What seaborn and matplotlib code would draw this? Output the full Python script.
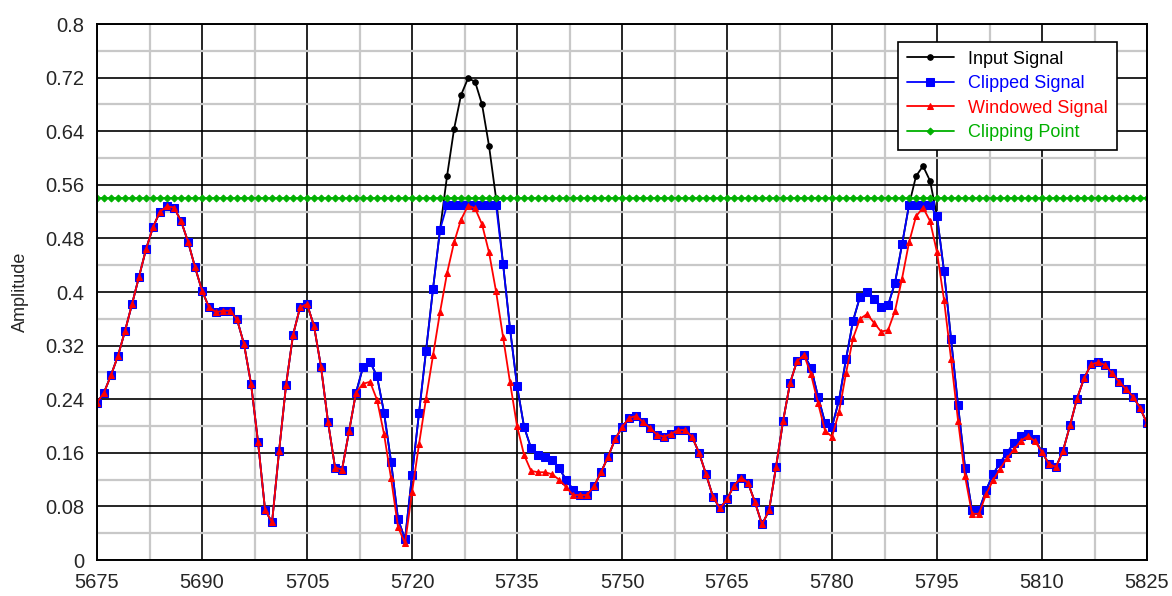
"""Clipping and windowing of a signal, reproduced with seaborn."""

import numpy as np
import pandas as pd
import seaborn as sns
import matplotlib.pyplot as plt
from matplotlib.ticker import FixedLocator

# sample positions
x_start, x_stop = 5675, 5825
samples = list(range(x_start, x_stop + 1))

clipped = [
    0.235, 0.250, 0.276, 0.305, 0.342, 0.382, 0.423, 0.464, 0.497, 0.520,
    0.528, 0.526, 0.506, 0.475, 0.437, 0.402, 0.377, 0.370, 0.372, 0.372,
    0.359, 0.322, 0.263, 0.176, 0.075, 0.056, 0.162, 0.261, 0.336, 0.377,
    0.382, 0.349, 0.288, 0.206, 0.138, 0.135, 0.192, 0.250, 0.288, 0.296,
    0.274, 0.220, 0.147, 0.061, 0.031, 0.127, 0.220, 0.312, 0.405, 0.493,
    0.530, 0.530, 0.530, 0.530, 0.530, 0.530, 0.530, 0.530, 0.442, 0.345,
    0.260, 0.199, 0.167, 0.157, 0.154, 0.149, 0.137, 0.120, 0.105, 0.097,
    0.097, 0.110, 0.131, 0.154, 0.180, 0.198, 0.212, 0.215, 0.206, 0.197,
    0.187, 0.184, 0.188, 0.194, 0.194, 0.184, 0.160, 0.128, 0.094, 0.077,
    0.091, 0.111, 0.123, 0.115, 0.086, 0.053, 0.074, 0.139, 0.207, 0.264,
    0.297, 0.306, 0.287, 0.244, 0.205, 0.199, 0.239, 0.300, 0.357, 0.393,
    0.400, 0.390, 0.377, 0.380, 0.414, 0.471, 0.530, 0.530, 0.530, 0.530,
    0.513, 0.431, 0.330, 0.231, 0.138, 0.074, 0.074, 0.104, 0.128, 0.145,
    0.160, 0.175, 0.185, 0.188, 0.180, 0.161, 0.143, 0.139, 0.163, 0.201,
    0.241, 0.271, 0.292, 0.295, 0.291, 0.279, 0.266, 0.255, 0.244, 0.227,
    0.204,
]

input_signal = [
    0.235, 0.250, 0.276, 0.305, 0.342, 0.382, 0.423, 0.464, 0.497, 0.520,
    0.528, 0.526, 0.506, 0.475, 0.437, 0.402, 0.377, 0.370, 0.372, 0.372,
    0.359, 0.322, 0.263, 0.176, 0.075, 0.056, 0.162, 0.261, 0.336, 0.377,
    0.382, 0.349, 0.288, 0.206, 0.138, 0.135, 0.192, 0.250, 0.288, 0.296,
    0.274, 0.220, 0.147, 0.061, 0.031, 0.127, 0.220, 0.312, 0.405, 0.493,
    0.573, 0.643, 0.694, 0.719, 0.714, 0.680, 0.618, 0.540, 0.442, 0.345,
    0.260, 0.199, 0.167, 0.157, 0.154, 0.149, 0.137, 0.120, 0.105, 0.097,
    0.097, 0.110, 0.131, 0.154, 0.180, 0.198, 0.212, 0.215, 0.206, 0.197,
    0.187, 0.184, 0.188, 0.194, 0.194, 0.184, 0.160, 0.128, 0.094, 0.077,
    0.091, 0.111, 0.123, 0.115, 0.086, 0.053, 0.074, 0.139, 0.207, 0.264,
    0.297, 0.306, 0.287, 0.244, 0.205, 0.199, 0.239, 0.300, 0.357, 0.393,
    0.400, 0.390, 0.377, 0.380, 0.414, 0.471, 0.530, 0.573, 0.588, 0.566,
    0.513, 0.431, 0.330, 0.231, 0.138, 0.074, 0.074, 0.104, 0.128, 0.145,
    0.160, 0.175, 0.185, 0.188, 0.180, 0.161, 0.143, 0.139, 0.163, 0.201,
    0.241, 0.271, 0.292, 0.295, 0.291, 0.279, 0.266, 0.255, 0.244, 0.227,
    0.204,
]

windowed = [
    0.235, 0.250, 0.276, 0.305, 0.342, 0.382, 0.423, 0.464, 0.497, 0.520,
    0.528, 0.526, 0.506, 0.475, 0.437, 0.402, 0.377, 0.370, 0.372, 0.372,
    0.359, 0.322, 0.263, 0.176, 0.075, 0.056, 0.162, 0.261, 0.336, 0.377,
    0.382, 0.349, 0.288, 0.206, 0.138, 0.135, 0.192, 0.250, 0.263, 0.266,
    0.239, 0.188, 0.122, 0.049, 0.025, 0.101, 0.173, 0.241, 0.306, 0.370,
    0.428, 0.474, 0.508, 0.529, 0.525, 0.501, 0.459, 0.401, 0.333, 0.265,
    0.200, 0.157, 0.133, 0.131, 0.131, 0.128, 0.120, 0.109, 0.097, 0.097,
    0.097, 0.110, 0.131, 0.154, 0.180, 0.198, 0.212, 0.215, 0.206, 0.197,
    0.187, 0.184, 0.188, 0.194, 0.194, 0.184, 0.160, 0.128, 0.094, 0.077,
    0.091, 0.111, 0.123, 0.115, 0.086, 0.053, 0.074, 0.139, 0.207, 0.264,
    0.297, 0.306, 0.277, 0.234, 0.193, 0.184, 0.221, 0.279, 0.331, 0.360,
    0.367, 0.354, 0.341, 0.343, 0.372, 0.420, 0.474, 0.513, 0.526, 0.506,
    0.459, 0.388, 0.300, 0.208, 0.125, 0.069, 0.069, 0.098, 0.119, 0.136,
    0.152, 0.165, 0.178, 0.185, 0.177, 0.161, 0.143, 0.139, 0.163, 0.201,
    0.241, 0.271, 0.292, 0.295, 0.291, 0.279, 0.266, 0.255, 0.244, 0.227,
    0.204,
]

clip_level = 0.54
clip_line = [clip_level] * len(samples)

x_ticks = list(range(5675, 5826, 15))
y_ticks = [0, 0.08, 0.16, 0.24, 0.32, 0.4, 0.48, 0.56, 0.64, 0.72, 0.8]
y_tick_labels = ["0", "0.08", "0.16", "0.24", "0.32", "0.4", "0.48",
                 "0.56", "0.64", "0.72", "0.8"]

df = pd.DataFrame({
    "x": samples,
    "Input Signal": input_signal,
    "Clipped Signal": clipped,
    "Windowed Signal": windowed,
    "Clipping Point": clip_line,
})

sns.set_style("white")
plt.rcParams["font.family"] = ["Liberation Sans Narrow", "Liberation Sans", "DejaVu Sans"]

fig = plt.figure(figsize=(11.72, 5.96), dpi=100)
ax = fig.add_axes([0.0828, 0.0604, 0.8959, 0.8993])

series = [
    ("Input Signal", "black", "o", 4.0),
    ("Clipped Signal", "#0000ff", "s", 5.5),
    ("Windowed Signal", "#ff0000", "^", 5.0),
    ("Clipping Point", "#00b000", "D", 3.5),
]
for name, color, marker, ms in series:
    sns.lineplot(
        data=df, x="x", y=name, ax=ax, color=color, marker=marker,
        markersize=ms, markeredgecolor=color, linewidth=1.3, label=name,
    )

ax.set_xlim(x_start, x_stop)
ax.set_ylim(0, 0.8)
ax.set_xticks(x_ticks)
ax.set_xticklabels([str(t) for t in x_ticks])
ax.set_yticks(y_ticks)
ax.set_yticklabels(y_tick_labels)
# one light line halfway between each pair of major lines
ax.xaxis.set_minor_locator(FixedLocator(np.array(x_ticks[:-1]) + 7.5))
ax.yaxis.set_minor_locator(FixedLocator(np.array(y_ticks[:-1]) + 0.04))

ax.set_axisbelow(True)
ax.grid(which="minor", color="#c8c8c8", linewidth=1.6)
ax.grid(which="major", color="black", linewidth=1.2)
ax.tick_params(which="major", direction="out", length=5, width=1.3,
               color="black", labelsize=14.5, pad=4)
ax.tick_params(which="minor", length=0)
for spine in ax.spines.values():
    spine.set_color("black")
    spine.set_linewidth(1.4)

ax.set_xlabel("")
ax.set_ylabel("Amplitude", fontsize=13, labelpad=12)

leg = ax.legend(
    loc="upper right", bbox_to_anchor=(0.98, 0.984), fontsize=13,
    frameon=True, fancybox=False, edgecolor="black", framealpha=1,
    handlelength=2.6, borderpad=0.5, labelspacing=0.42,
)
leg.get_frame().set_linewidth(1.2)
for text, (_, color, _, _) in zip(leg.get_texts(), series):
    text.set_color(color)

fig.savefig("out.png", dpi=100)
plt.close(fig)
